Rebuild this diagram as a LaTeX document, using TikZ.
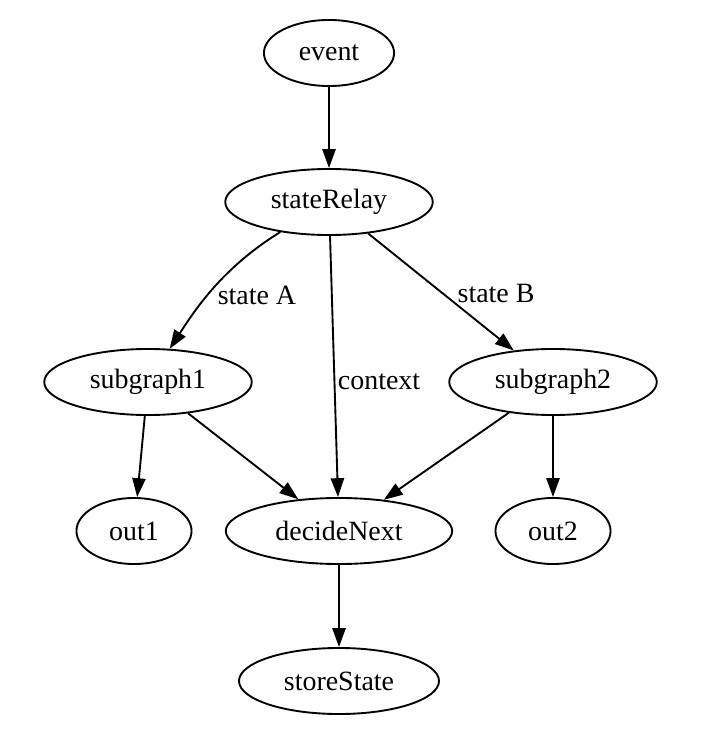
\documentclass[tikz,border=0pt]{standalone}
\usepackage{fontspec}
\setmainfont{Liberation Serif}
\usetikzlibrary{arrows.meta,shapes.geometric}

\begin{document}
\begin{tikzpicture}[
    x=0.53pt, y=-0.53pt,
    every node/.style={font=\fontsize{14.8}{17}\selectfont},
    state/.style={draw, ellipse, line width=1pt, inner sep=0pt, minimum height=35pt},
    arrow/.style={-{Triangle[length=10pt, width=7pt]}, line width=1pt},
    elabel/.style={anchor=west}
]
\useasboundingbox (0,0) rectangle (710,751);

\node[state, minimum width=69pt] (event) at (329,53) {event};
\node[state, minimum width=110pt] (relay) at (329,202) {stateRelay};
\node[state, minimum width=110pt] (sub1) at (148,382) {subgraph1};
\node[state, minimum width=110pt] (sub2) at (553,382) {subgraph2};
\node[state, minimum width=61pt] (out1) at (134,531) {out1};
\node[state, minimum width=120pt] (decide) at (339,531) {decideNext};
\node[state, minimum width=61pt] (out2) at (553,531) {out2};
\node[state, minimum width=106pt] (store) at (339,681) {storeState};

\draw[arrow] (event) -- (relay);
\draw[arrow] (relay) .. controls (222,268) and (195,310) .. node[elabel, pos=0.52, yshift=-2pt] {state A} (sub1);
\draw[arrow] (relay) -- node[elabel, pos=0.56, xshift=-2pt] {context} (decide);
\draw[arrow] (relay) -- node[elabel, pos=0.5, xshift=5pt, yshift=-1pt] {state B} (sub2);
\draw[arrow] (sub1) -- (out1);
\draw[arrow] (sub1) -- (decide);
\draw[arrow] (sub2) -- (decide);
\draw[arrow] (sub2) -- (out2);
\draw[arrow] (decide) -- (store);
\end{tikzpicture}
\end{document}
